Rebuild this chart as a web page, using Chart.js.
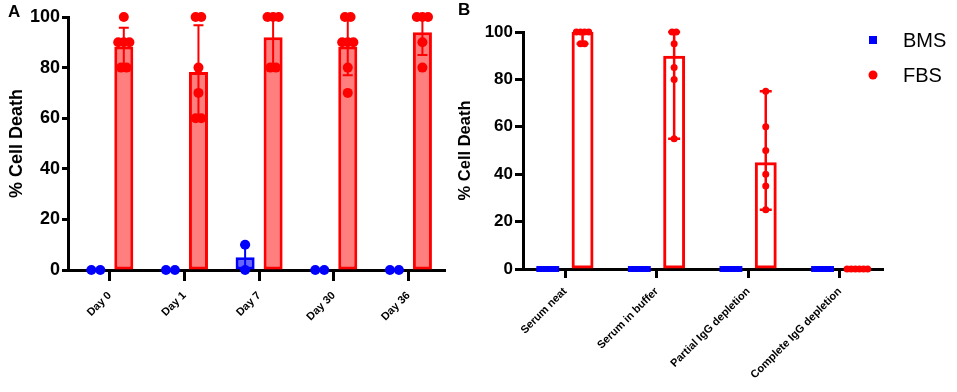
<!DOCTYPE html>
<html>
<head>
<meta charset="utf-8">
<script src="https://cdn.jsdelivr.net/npm/chart.js@4.4.0/dist/chart.umd.min.js"></script>
<style>
  html, body { margin: 0; padding: 0; background: #fff; }
  #wrap { position: relative; width: 957px; height: 392px; }
  canvas { position: absolute; top: 0; }
  #chartA { left: 0; }
  #chartB { left: 450px; }
</style>
</head>
<body>
<div id="wrap">
  <canvas id="chartA" width="450" height="392"></canvas>
  <canvas id="chartB" width="507" height="392"></canvas>
</div>
<script>
const seriesNames = ["BMS", "FBS"];
const yTicks = [0, 20, 40, 60, 80, 100];

// Panel A: mean +/- SD, individual wells
const dayLabels = ["Day 0", "Day 1", "Day 7", "Day 30", "Day 36"];
const bmsMeanA = [0, 0, 5, 0, 0];
const bmsLowA = [null, null, 0, null, null];
const bmsHighA = [null, null, 10, null, null];
const fbsMeanA = [88.3, 78.3, 92, 88.3, 94];
const fbsLowA = [80.8, 60, 81, 77, 85];
const fbsHighA = [95.8, 96.7, 100, 99.5, 100];
const bmsPointsA = [[0, 0], [0, 0], [10, 0], [0, 0], [0, 0]];
const fbsPointsA = [
  [100, 90, 90, 90, 80, 80],
  [100, 100, 80, 70, 60, 60],
  [100, 100, 100, 80, 80],
  [100, 100, 90, 90, 90, 80, 70],
  [100, 100, 100, 90, 80],
];

// Panel B: median with range
const treatLabels = ["Serum neat", "Serum in buffer", "Partial IgG depletion", "Complete IgG depletion"];
const bmsMedianB = [0, 0, 0, 0];
const fbsMedianB = [100, 90, 45, 0];
const fbsLowB = [95, 55, 25, null];
const fbsHighB = [100, 100, 75, null];
const bmsPointsB = [
  [0, 0, 0, 0, 0, 0],
  [0, 0, 0, 0, 0, 0],
  [0, 0, 0, 0, 0, 0],
  [0, 0, 0, 0, 0, 0],
];
const fbsPointsB = [
  [100, 100, 100, 100, 95, 95],
  [100, 100, 95, 85, 80, 55],
  [75, 60, 50, 40, 35, 25],
  [0, 0, 0, 0, 0, 0],
];

const RED = "#ff0000";
const BLUE = "#0000ff";
const FONT = "'Liberation Sans', Arial, sans-serif";

// spread equal values sideways around the bar centre
function swarm(groups, shift, spacing) {
  const pts = [];
  groups.forEach((vals, i) => {
    const counts = {}, seen = {};
    vals.forEach((v) => (counts[v] = (counts[v] || 0) + 1));
    vals.forEach((v) => {
      const j = (seen[v] = (seen[v] ?? -1) + 1);
      pts.push({ x: i + shift + (j - (counts[v] - 1) / 2) * spacing, y: v });
    });
  });
  return pts;
}

const toXY = (arr) => arr.map((v, i) => ({ x: i, y: v }));

const errorBars = {
  id: "errorBars",
  afterDatasetDraw(chart, args, opts) {
    const ds = chart.data.datasets[args.index];
    if (!ds.errLow) return;
    const ctx = chart.ctx;
    const y = chart.scales.y;
    ctx.save();
    ctx.strokeStyle = ds.borderColor;
    ctx.lineWidth = opts.width;
    args.meta.data.forEach((bar, i) => {
      const lo = ds.errLow[i], hi = ds.errHigh[i];
      if (lo == null) return;
      const yl = y.getPixelForValue(lo), yh = y.getPixelForValue(hi);
      ctx.beginPath();
      ctx.moveTo(bar.x, yl); ctx.lineTo(bar.x, yh);
      ctx.moveTo(bar.x - opts.cap, yl); ctx.lineTo(bar.x + opts.cap, yl);
      ctx.moveTo(bar.x - opts.cap, yh); ctx.lineTo(bar.x + opts.cap, yh);
      ctx.stroke();
    });
    ctx.restore();
  },
};

const decor = {
  id: "decor",
  afterDraw(chart, args, opts) {
    const ctx = chart.ctx;
    ctx.save();
    ctx.fillStyle = "#000";
    ctx.textBaseline = "middle";
    ctx.font = "bold 17px " + FONT;
    ctx.fillText(opts.letter, opts.lx, opts.ly);
    if (opts.legend) {
      ctx.font = "20px " + FONT;
      ctx.fillStyle = BLUE;
      ctx.fillRect(419, 36, 8, 8);
      ctx.fillStyle = RED;
      ctx.beginPath();
      ctx.arc(423, 75, 4.5, 0, Math.PI * 2);
      ctx.fill();
      ctx.fillStyle = "#000";
      ctx.fillText(seriesNames[0], 453, 41);
      ctx.fillText(seriesNames[1], 453, 76);
    }
    ctx.restore();
  },
};

function makePanel(id, p) {
  const half = p.catPct / 4;
  return new Chart(document.getElementById(id), {
    type: "bar",
    data: {
      datasets: [
        {
          type: "scatter", label: seriesNames[1], data: swarm(p.fbsPts, half, p.spread),
          pointStyle: "circle", pointRadius: p.dotR, backgroundColor: RED, borderWidth: 0, clip: false,
        },
        {
          type: "scatter", label: seriesNames[0], data: swarm(p.bmsPts, -half, p.bmsSpread),
          pointStyle: p.bmsStyle, pointRadius: p.bmsR, backgroundColor: BLUE, borderWidth: 0, clip: false,
        },
        {
          label: seriesNames[0], data: toXY(p.bmsBar), errLow: p.bmsLow, errHigh: p.bmsHigh,
          backgroundColor: p.bmsFill, borderColor: BLUE, borderWidth: 3, borderSkipped: false,
          categoryPercentage: p.catPct, barPercentage: p.barPct, clip: false,
        },
        {
          label: seriesNames[1], data: toXY(p.fbsBar), errLow: p.fbsLow, errHigh: p.fbsHigh,
          backgroundColor: p.fbsFill, borderColor: RED, borderWidth: 3, borderSkipped: false,
          categoryPercentage: p.catPct, barPercentage: p.barPct, clip: false,
        },
      ],
    },
    options: {
      responsive: false,
      animation: false,
      events: [],
      layout: { padding: p.pad },
      plugins: {
        legend: { display: false },
        tooltip: { enabled: false },
        errorBars: p.err,
        decor: p.decor,
      },
      scales: {
        x: {
          type: "linear",
          min: p.xMin, max: p.xMax,
          offset: false,
          afterBuildTicks: (s) => { s.ticks = p.labels.map((_, i) => ({ value: i })); },
          afterFit: (s) => { s.height = p.xH; },
          ticks: {
            autoSkip: false, minRotation: 45, maxRotation: 45, padding: p.xPad,
            color: "#000", font: { family: FONT, size: 11, weight: "bold" },
            callback: (v) => p.labels[v],
          },
          grid: { offset: false, drawOnChartArea: false, tickLength: p.xTick, tickWidth: 3, tickColor: "#000" },
          border: { color: "#000", width: 3 },
        },
        y: {
          min: 0, max: 100,
          afterBuildTicks: (s) => { s.ticks = yTicks.map((v) => ({ value: v })); },
          afterFit: (s) => { s.width = p.yW; },
          ticks: { color: "#000", padding: 2, font: { family: FONT, size: p.tickSize, weight: "bold" } },
          grid: { drawOnChartArea: false, tickLength: p.yTick, tickWidth: 3, tickColor: "#000" },
          border: { color: "#000", width: 3 },
          title: {
            display: true, text: "% Cell Death", color: "#000", padding: { top: p.titlePad, bottom: 0 },
            font: { family: FONT, size: p.titleSize, weight: "bold" },
          },
        },
      },
    },
    plugins: [errorBars, decor],
  });
}

makePanel("chartA", {
  labels: dayLabels,
  bmsBar: bmsMeanA, bmsLow: bmsLowA, bmsHigh: bmsHighA,
  fbsBar: fbsMeanA, fbsLow: fbsLowA, fbsHigh: fbsHighA,
  bmsPts: bmsPointsA, fbsPts: fbsPointsA,
  bmsFill: "rgba(0,0,255,0.6)", fbsFill: "rgba(255,0,0,0.5)",
  bmsStyle: "circle", bmsR: 5, dotR: 5, spread: 0.075, bmsSpread: 0.12,
  catPct: 0.75, barPct: 0.68,
  xMin: -0.56, xMax: 4.49, xH: 122, xPad: 8, xTick: 11, yW: 68, yTick: 6,
  tickSize: 18, titleSize: 18, titlePad: 6,
  pad: { top: 17, right: 3, left: 0, bottom: 0 },
  err: { width: 2, cap: 5 },
  decor: { letter: "A", lx: 8, ly: 12, legend: false },
});

makePanel("chartB", {
  labels: treatLabels,
  bmsBar: bmsMedianB, bmsLow: null, bmsHigh: null,
  fbsBar: fbsMedianB, fbsLow: fbsLowB, fbsHigh: fbsHighB,
  bmsPts: bmsPointsB, fbsPts: fbsPointsB,
  bmsFill: "rgba(0,0,255,0.6)", fbsFill: "rgba(255,255,255,0)",
  bmsStyle: "rect", bmsR: 4.2, dotR: 3.5, spread: 0.045, bmsSpread: 0.037,
  catPct: 0.76, barPct: 0.63,
  xMin: -0.46, xMax: 3.47, xH: 123, xPad: 7, xTick: 9, yW: 73, yTick: 8,
  tickSize: 17, titleSize: 16.5, titlePad: 6,
  pad: { top: 32, right: 74, left: 0, bottom: 0 },
  err: { width: 2.5, cap: 6 },
  decor: { letter: "B", lx: 8, ly: 10, legend: true },
});
</script>
</body>
</html>
